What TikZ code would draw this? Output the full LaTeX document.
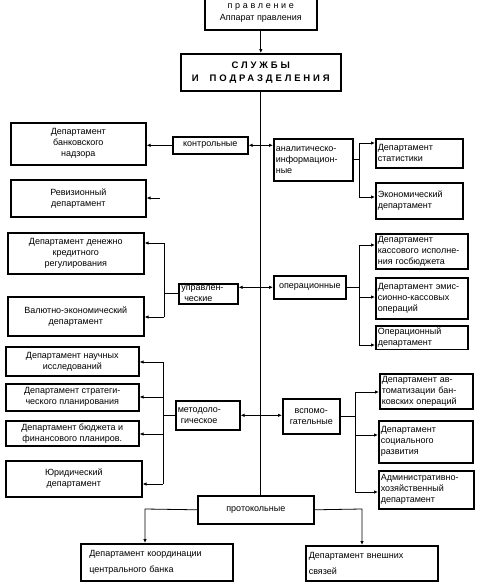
\documentclass[tikz,border=0pt]{standalone}
\usepackage{fontspec}
\setmainfont{Liberation Sans}
\newfontfamily\spacedfont[LetterSpace=30]{Liberation Sans}
\usetikzlibrary{arrows.meta,calc}

\begin{document}
\begin{tikzpicture}[x=1pt, y=-1pt,
    dept/.style={draw, line width=1.6pt, inner sep=2pt, anchor=north west, align=center, font=\fontsize{9}{11}\selectfont},
    deptl/.style={dept, align=left},
    link/.style={line width=0.8pt},
    arr/.style={link, -{Latex[length=4pt, width=3.5pt]}},
]
\useasboundingbox (0,0) rectangle (487,587);

% Head
\node[dept, minimum width=112, minimum height=33, font=\fontsize{9}{12}\selectfont] (pravl) at (204,-4) {{\spacedfont правление}\\Аппарат правления};
\node[dept, minimum width=160, minimum height=37, font=\spacedfont\bfseries\fontsize{9.5}{13}\selectfont] (sluzhby) at (180,53) {СЛУЖБЫ\\И\ \ ПОДРАЗДЕЛЕНИЯ};

% Left column
\node[dept, minimum width=75, minimum height=17] (kontr) at (172,136) {контрольные};
\node[dept, minimum width=135, minimum height=42] (nadzor) at (10,122) {Департамент\\банковского\\надзора};
\node[dept, minimum width=135, minimum height=37] (reviz) at (10,179) {Ревизионный\\департамент};
\node[deptl, minimum width=59, minimum height=19, text width=54] (upr) at (178,283) {управлен-\\\ ческие};
\node[dept, minimum width=136, minimum height=41] (dkr) at (7,232) {Департамент денежно\\кредитного\\регулирования};
\node[dept, minimum width=136, minimum height=39] (valut) at (7,296) {Валютно-экономический\\департамент};
\node[deptl, minimum width=64, minimum height=29, text width=60] (metod) at (175,400) {методоло-\\\ гическое};
\node[dept, minimum width=133, minimum height=29] (nauch) at (5,346) {Департамент научных\\исследований};
\node[dept, minimum width=133, minimum height=27] (strat) at (5,383) {Департамент стратеги-\\ческого планирования};
\node[dept, minimum width=133, minimum height=25] (budg) at (5,420) {Департамент бюджета и\\финансового планиров.};
\node[dept, minimum width=136, minimum height=36] (yur) at (5,460) {Юридический\\департамент};

% Right column
\node[deptl, minimum width=79, minimum height=42, text width=75] (analit) at (273,138) {аналитическо-\\информацион-\\ные};
\node[deptl, minimum width=87, minimum height=29, text width=83] (stat) at (375,138) {Департамент\\статистики};
\node[deptl, minimum width=87, minimum height=36, text width=83] (econ) at (375,182) {Экономический\\департамент};
\node[dept, minimum width=72, minimum height=23] (oper) at (273,275) {операционные};
\node[deptl, minimum width=92, minimum height=35, text width=88] (kass) at (375,233) {Департамент\\кассового исполне-\\ния госбюджета};
\node[deptl, minimum width=92, minimum height=41, text width=88] (emis) at (375,277) {Департамент эмис-\\сионно-кассовых\\операций};
\node[deptl, minimum width=92, minimum height=23, text width=88] (operd) at (375,325) {Операционный\\департамент};
\node[dept, minimum width=57, minimum height=35] (vspom) at (282,398) {вспомо-\\гательные};
\node[deptl, minimum width=93, minimum height=35, text width=89] (avto) at (379,373) {Департамент ав-\\томатизации бан-\\ковских операций};
\node[deptl, minimum width=94, minimum height=42, text width=90] (soc) at (378,420) {Департамент\\социального\\развития};
\node[deptl, minimum width=95, minimum height=38, text width=91] (adm) at (378,470) {Административно-\\хозяйственный\\департамент};

% Bottom
\node[dept, minimum width=116, minimum height=28] (prot) at (197,495) {протокольные};
\node[deptl, minimum width=152, minimum height=37, text width=135] (koord) at (80,543) {Департамент координации\\[5pt]центрального банка};
\node[deptl, minimum width=132, minimum height=35, text width=126] (vnesh) at (305,545) {Департамент внешних\\[5pt]связей};

% Trunk
\draw[arr] (pravl.south) -- (sluzhby.north);
\draw[link] (sluzhby.south) -- (sluzhby.south |- prot.north);

% Branches off the trunk
\draw[arr] (kontr.east -| sluzhby.south) -- (kontr.east);
\draw[arr] (kontr.east -| sluzhby.south) -- (kontr.east -| analit.west);
\draw[arr] (oper.west -| sluzhby.south) -- (oper.west -| upr.east);
\draw[arr] (oper.west -| sluzhby.south) -- (oper.west);
\draw[arr] (metod.east -| sluzhby.south) -- (metod.east);
\draw[arr] (metod.east -| sluzhby.south) -- (metod.east -| vspom.west);

% контрольные
\draw[arr] (kontr.west) -- (kontr.west -| nadzor.east);
\coordinate (rv) at (160,198);
\draw[arr] (rv) -- (rv -| reviz.east);

% аналитическо-информационные
\coordinate (a1) at (359,143);
\coordinate (a2) at (359,197);
\draw[link] (analit.east) -- (analit.east -| a1);
\draw[link] (a1) -- (a2);
\draw[arr] (a1) -- (a1 -| stat.west);
\draw[arr] (a2) -- (a2 -| econ.west);

% управленческие
\coordinate (u1) at (164,243);
\coordinate (u2) at (164,317);
\draw[link] (upr.west) -- (upr.west -| u1);
\draw[link] (u1) -- (u2);
\draw[arr] (u1) -- (u1 -| dkr.east);
\draw[arr] (u2) -- (u2 -| valut.east);

% операционные
\coordinate (o1) at (359,245);
\coordinate (o2) at (359,297);
\coordinate (o3) at (359,345);
\draw[link] (oper.east) -- (oper.east -| o1);
\draw[link] (o1) -- (o3);
\draw[arr] (o1) -- (o1 -| kass.west);
\draw[arr] (o2) -- (o2 -| emis.west);
\draw[arr] (o3) -- (o3 -| operd.west);

% методологическое
\coordinate (m1) at (163,362);
\coordinate (m2) at (163,397);
\coordinate (m3) at (163,434);
\coordinate (m4) at (163,484);
\draw[link] (metod.west) -- (metod.west -| m1);
\draw[link] (m1) -- (m4);
\draw[arr] (m1) -- (m1 -| nauch.east);
\draw[arr] (m2) -- (m2 -| strat.east);
\draw[arr] (m3) -- (m3 -| budg.east);
\draw[arr] (m4) -- (m4 -| yur.east);

% вспомогательные
\coordinate (v1) at (355,392);
\coordinate (v2) at (355,435);
\coordinate (v3) at (355,492);
\draw[link] (vspom.east) -- (vspom.east -| v1);
\draw[link] (v1) -- (v3);
\draw[arr] (v1) -- (v1 -| avto.west);
\draw[arr] (v2) -- (v2 -| soc.west);
\draw[arr] (v3) -- (v3 -| adm.west);

% протокольные
\coordinate (pk) at (145,509);
\coordinate (pv) at (362,509);
\draw[arr] (prot.west) -- (pk) -- (pk |- koord.north);
\draw[arr] (prot.east) -- (pv) -- (pv |- vnesh.north);

\end{tikzpicture}
\end{document}
